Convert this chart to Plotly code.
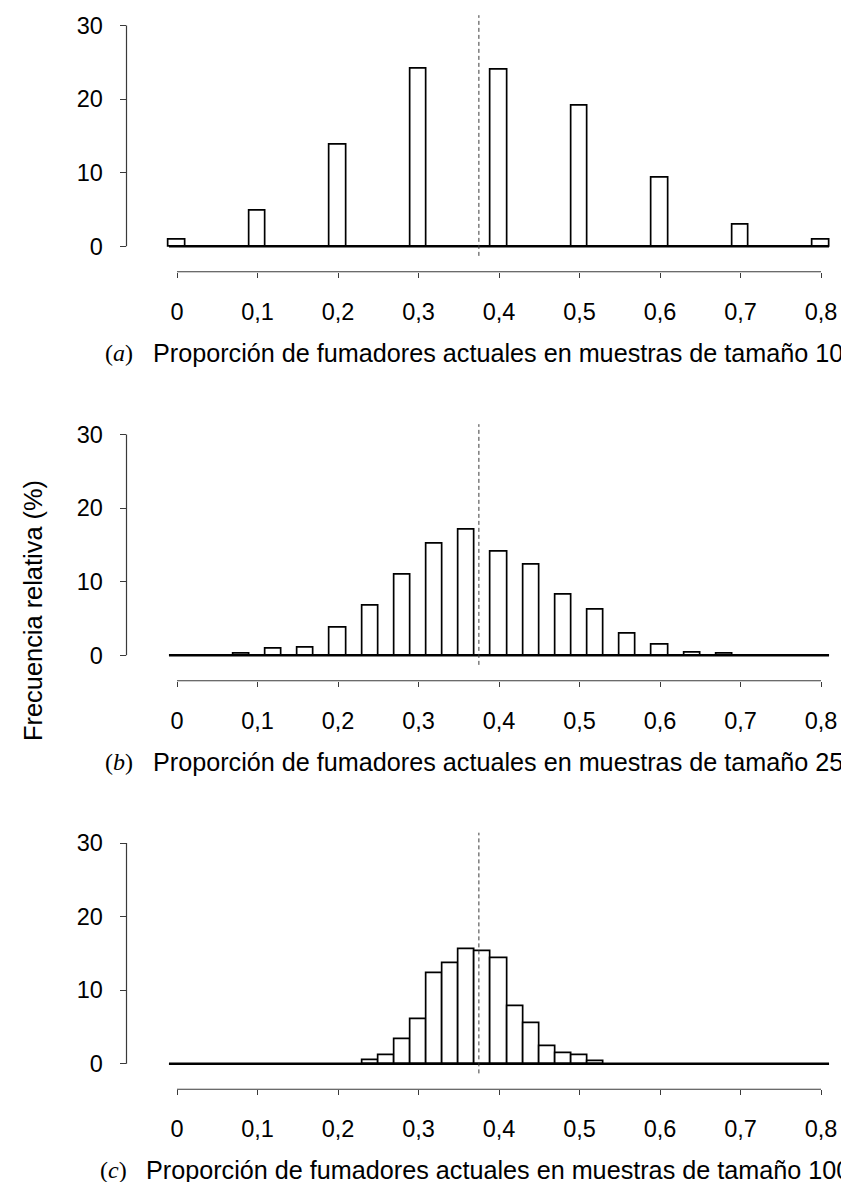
import plotly.graph_objects as go

# ---------------- data ----------------
tick_vals = [0, 0.1, 0.2, 0.3, 0.4, 0.5, 0.6, 0.7, 0.8]
tick_text = ["0", "0,1", "0,2", "0,3", "0,4", "0,5", "0,6", "0,7", "0,8"]
y_ticks = [0, 10, 20, 30]
bin_width = 0.02
bin_first = 0.0
bin_last = 0.8
true_p = 0.375

# (a) n = 10
prop_a = [0.0, 0.1, 0.2, 0.3, 0.4, 0.5, 0.6, 0.7, 0.8]
freq_a = [0.9, 4.8, 13.8, 24.1, 24.0, 19.1, 9.3, 3.0, 0.9]

# (b) n = 25
prop_b = [0.08, 0.12, 0.16, 0.20, 0.24, 0.28, 0.32, 0.36, 0.40, 0.44, 0.48, 0.52, 0.56, 0.60, 0.64, 0.68]
freq_b = [0.2, 0.9, 1.0, 3.7, 6.7, 10.9, 15.1, 17.1, 14.1, 12.3, 8.2, 6.2, 2.9, 1.45, 0.35, 0.2]

# (c) n = 100
prop_c = [0.24, 0.26, 0.28, 0.30, 0.32, 0.34, 0.36, 0.38, 0.40, 0.42, 0.44, 0.46, 0.48, 0.50, 0.52]
freq_c = [0.45, 1.1, 3.4, 6.0, 12.3, 13.6, 15.6, 15.3, 14.4, 7.8, 5.5, 2.4, 1.5, 1.1, 0.3]

panel_letters = ["a", "b", "c"]
panel_titles = [
    "Proporción de fumadores actuales en muestras de tamaño 10",
    "Proporción de fumadores actuales en muestras de tamaño 25",
    "Proporción de fumadores actuales en muestras de tamaño 100",
]
y_title = "Frecuencia relativa (%)"

# ---------------- layout geometry (pixels) ----------------
W, H = 849, 1182
SANS = "Liberation Sans, Arial, Helvetica, sans-serif"
SERIF = "Liberation Serif, Times New Roman, serif"
AXC = "#3a3a3a"

px_per_unit = 7.36          # vertical px per 1 %
px_per_x = 805.0            # horizontal px per 1.0 proportion
x_zero_px = 169.0
plot_left_px = 118.5
plot_right_px = 842.0
y_top_units = 31.6
below_units = 3.46
zero_px = [238.3, 647.3, 1055.8]
title_center_px = 490.0
title_offset_px = 106.5
paren_right_px = [127.0, 127.0, 120.5]

x_range = [(plot_left_px - x_zero_px) / px_per_x, (plot_right_px - x_zero_px) / px_per_x]
x_domain = [plot_left_px / W, plot_right_px / W]

fig = go.Figure()
datasets = [(prop_a, freq_a), (prop_b, freq_b), (prop_c, freq_c)]
shapes = []
annotations = []

for i, ((px, fy), z) in enumerate(zip(datasets, zero_px)):
    sfx = "" if i == 0 else str(i + 1)
    xa, ya = "x" + sfx, "y" + sfx
    top_px = z - y_top_units * px_per_unit
    bot_px = z + below_units * px_per_unit
    fig.add_trace(go.Bar(
        x=px, y=fy, width=bin_width, xaxis=xa, yaxis=ya,
        marker=dict(color="white", line=dict(color="black", width=1.7)),
        showlegend=False, hoverinfo="skip",
    ))
    fig.add_trace(go.Scatter(
        x=[bin_first - bin_width / 2, bin_last + bin_width / 2], y=[0, 0],
        mode="lines", line=dict(color="black", width=2.6),
        xaxis=xa, yaxis=ya, showlegend=False, hoverinfo="skip",
    ))
    fig.layout["xaxis" + sfx] = dict(
        domain=x_domain, range=x_range, anchor=ya,
        tickvals=tick_vals, ticktext=tick_text, ticks="outside", ticklen=5,
        tickcolor=AXC, tickwidth=1, showline=False, showgrid=False, zeroline=False,
        tickfont=dict(family=SANS, size=23.5, color="black"),
        ticklabelstandoff=14,
    )
    fig.layout["yaxis" + sfx] = dict(
        domain=[1 - bot_px / H, 1 - top_px / H], range=[-below_units, y_top_units],
        anchor=xa, tickvals=y_ticks, ticks="outside", ticklen=6, tickcolor=AXC,
        tickwidth=1, showline=False, showgrid=False, zeroline=False,
        tickfont=dict(family=SANS, size=23.5, color="black"),
        ticklabelstandoff=12,
    )
    # y axis line 0..30
    shapes.append(dict(type="line", xref=xa + " domain", yref=ya, x0=0, x1=0,
                       y0=y_ticks[0], y1=y_ticks[-1], line=dict(color=AXC, width=1.2)))
    # x axis line 0..0.8
    shapes.append(dict(type="line", xref=xa, yref=ya + " domain", x0=tick_vals[0],
                       x1=tick_vals[-1], y0=0, y1=0, line=dict(color=AXC, width=1.2)))
    # true proportion
    shapes.append(dict(type="line", xref=xa, yref=ya, x0=true_p, x1=true_p,
                       y0=-1.3, y1=31.4, line=dict(color=AXC, width=1, dash="4px,3px")))
    title_y = 1 - (z + title_offset_px) / H
    annotations.append(dict(xref="paper", yref="paper", x=paren_right_px[i] / W, y=title_y,
                            xanchor="right", yanchor="middle", showarrow=False,
                            text="(<i>" + panel_letters[i] + "</i>)",
                            font=dict(family=SERIF, size=24, color="black")))
    annotations.append(dict(xref="paper", yref="paper", x=title_center_px / W, y=title_y,
                            xanchor="center", yanchor="middle", showarrow=False,
                            text=panel_titles[i],
                            font=dict(family=SANS, size=25.2, color="black")))

annotations.append(dict(xref="paper", yref="paper", x=25 / W, y=1 - 603 / H,
                        xanchor="center", yanchor="middle", showarrow=False,
                        text=y_title, textangle=-90,
                        font=dict(family=SANS, size=25.4, color="black")))

fig.update_layout(
    width=W, height=H, margin=dict(l=0, r=0, t=0, b=0),
    paper_bgcolor="white", plot_bgcolor="white",
    shapes=shapes, annotations=annotations, bargap=0, showlegend=False,
)

fig.write_html("out.html")
